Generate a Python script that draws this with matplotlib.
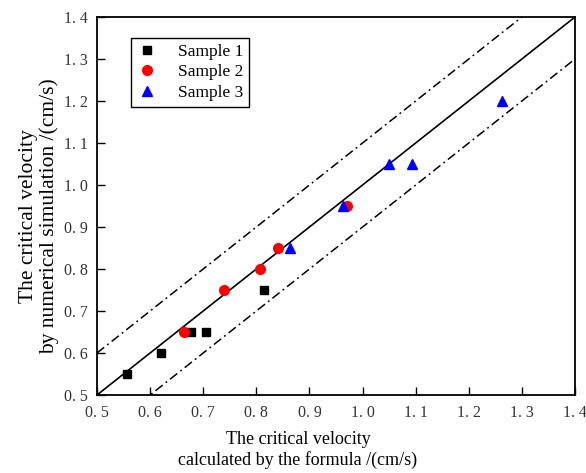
import matplotlib
matplotlib.use("Agg")
import matplotlib.pyplot as plt
import numpy as np

s1_x = [0.556, 0.620, 0.677, 0.705, 0.814]
s1_y = [0.55, 0.60, 0.65, 0.65, 0.75]
s2_x = [0.663, 0.740, 0.807, 0.840, 0.970]
s2_y = [0.65, 0.75, 0.80, 0.85, 0.95]
s3_x = [0.863, 0.964, 1.050, 1.094, 1.263]
s3_y = [0.85, 0.95, 1.05, 1.05, 1.20]
ticks = [0.5, 0.6, 0.7, 0.8, 0.9, 1.0, 1.1, 1.2, 1.3, 1.4]
tick_labels = ["0. 5", "0. 6", "0. 7", "0. 8", "0. 9", "1. 0", "1. 1", "1. 2", "1. 3", "1. 4"]
band = 0.1

plt.rcParams['font.family'] = ['Liberation Serif', 'DejaVu Serif']

fig = plt.figure(figsize=(5.86, 4.73), dpi=100)
ax = fig.add_axes([97/586, 1-395/473, 478/586, 378/473])

line_x = np.array([0.5, 1.4])
ax.plot(line_x, line_x, color='black', lw=1.2, zorder=1)
ax.plot(line_x, line_x + band, color='black', lw=1.1, ls=(0, (6, 2.5, 1.2, 2.5)), zorder=1)
ax.plot(line_x, line_x - band, color='black', lw=1.1, ls=(0, (6, 2.5, 1.2, 2.5)), zorder=1)

ax.plot(s1_x, s1_y, 's', color='black', ms=6, ls='none', label='Sample 1', zorder=3)
ax.plot(s2_x, s2_y, 'o', color='red', ms=7, ls='none', label='Sample 2', zorder=3)
ax.plot(s3_x, s3_y, '^', color='blue', ms=7.5, ls='none', label='Sample 3', zorder=4)

ax.set_xlim(0.5, 1.4)
ax.set_ylim(0.5, 1.4)
ax.set_xticks(ticks)
ax.set_xticklabels(tick_labels)
ax.set_yticks(ticks)
ax.set_yticklabels(tick_labels)
ax.tick_params(direction='in', length=6, width=1, labelsize=11.5, top=False, right=False,
               labelcolor='#333333')
ax.tick_params(axis='x', pad=7.5)
ax.tick_params(axis='y', pad=6.5)
for sp in ax.spines.values():
    sp.set_linewidth(1.3)

leg = ax.legend(loc='upper left', bbox_to_anchor=((130.7-97)/478, (395-37.7)/378),
                borderaxespad=0, fontsize=12.5, frameon=True, fancybox=False,
                edgecolor='black', handlelength=1.2, handletextpad=1.15,
                labelspacing=0.25, borderpad=0.35, framealpha=1)
leg.get_frame().set_linewidth(1.0)

fig.text(298/586, 1-450/473, "The critical velocity\ncalculated by the formula /(cm/s)",
         ha='center', va='center', fontsize=13, linespacing=1.25)
fig.text(39/586, 1-216/473, "The critical velocity\nby numerical simulation /(cm/s)",
         ha='center', va='center', fontsize=15.5, rotation=90, linespacing=1.15)

fig.savefig("out.png", dpi=100)
